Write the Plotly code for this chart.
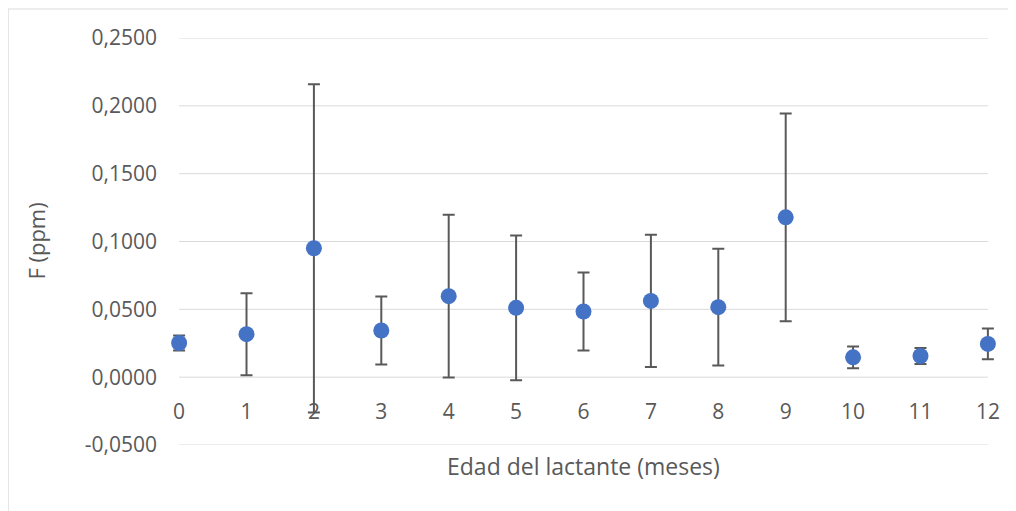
import plotly.graph_objects as go

edad = [0, 1, 2, 3, 4, 5, 6, 7, 8, 9, 10, 11, 12]
f_ppm = [0.0252, 0.0317, 0.0950, 0.0344, 0.0597, 0.0511, 0.0484, 0.0562, 0.0516, 0.1178, 0.0146, 0.0156, 0.0245]
err = [0.0055, 0.0302, 0.1210, 0.0250, 0.0600, 0.0533, 0.0287, 0.0487, 0.0430, 0.0766, 0.0080, 0.0059, 0.0113]

y_ticks = [-0.05, 0.0, 0.05, 0.10, 0.15, 0.20, 0.25]
y_ticktext = ["-0,0500", "0,0000", "0,0500", "0,1000", "0,1500", "0,2000", "0,2500"]
x_ticks = list(range(0, 13))

font = "Open Sans"
grey = "#595959"

fig = go.Figure()
fig.add_trace(go.Scatter(
    x=edad, y=f_ppm, mode="markers", cliponaxis=False,
    marker=dict(color="#4472C4", size=16),
    error_y=dict(type="data", array=err, visible=True, color=grey, thickness=2, width=6),
    showlegend=False,
))

ymin, ymax = -0.05, 0.25
xmin, xmax = x_ticks[0], x_ticks[-1]
pad = 0.15
# inner grid area (page px) 179..988, figure offset 8px by page body margin
GL, GW = 171, 809
ppu = GW / (xmax - xmin)
L = GL - pad * ppu
PW = GW + 2 * pad * ppu
T, PH = 30, 407

shapes = [dict(
    type="line", xref="x", yref="y", x0=xmin, x1=xmax, y0=v, y1=v,
    line=dict(color="#d9d9d9", width=1), layer="below",
) for v in y_ticks]
shapes.append(dict(
    type="rect", xref="paper", yref="paper",
    x0=(0 - L) / PW, x1=(1030 - L) / PW,
    y0=(T + PH - 530) / PH, y1=(T + PH - 1) / PH,
    line=dict(color="#d9d9d9", width=1), layer="below",
))

fig.update_layout(
    width=1016, height=511,
    margin=dict(l=L, r=1016 - L - PW, t=T, b=511 - T - PH),
    paper_bgcolor="white", plot_bgcolor="white",
    font=dict(family=font, size=21, color=grey),
    xaxis=dict(
        range=[xmin - pad, xmax + pad], tickvals=x_ticks, showgrid=False, zeroline=False,
        showline=False, ticks="", anchor="free",
        position=(0 - ymin) / (ymax - ymin),
        ticklabelstandoff=20,
        tickfont=dict(size=21, color=grey),
        title=None,
    ),
    yaxis=dict(
        range=[ymin, ymax], tickvals=y_ticks, ticktext=y_ticktext,
        showgrid=False, zeroline=False,
        showline=False, ticks="", ticklabelstandoff=int(round(21 - pad * ppu)),
        tickfont=dict(size=21, color=grey),
        title=None,
    ),
    annotations=[
        dict(
            text="Edad del lactante (meses)", xref="paper", yref="paper",
            x=0.5, y=0, yshift=-21, yanchor="middle", showarrow=False,
            font=dict(size=23, color=grey),
        ),
        dict(
            text="F (ppm)", xref="paper", yref="paper", textangle=-90,
            x=0, xshift=-144 + pad * ppu, y=0.5, xanchor="center", yanchor="middle",
            showarrow=False, font=dict(size=22, color=grey),
        ),
    ],
    shapes=shapes,
)

fig.write_html("out.html")
